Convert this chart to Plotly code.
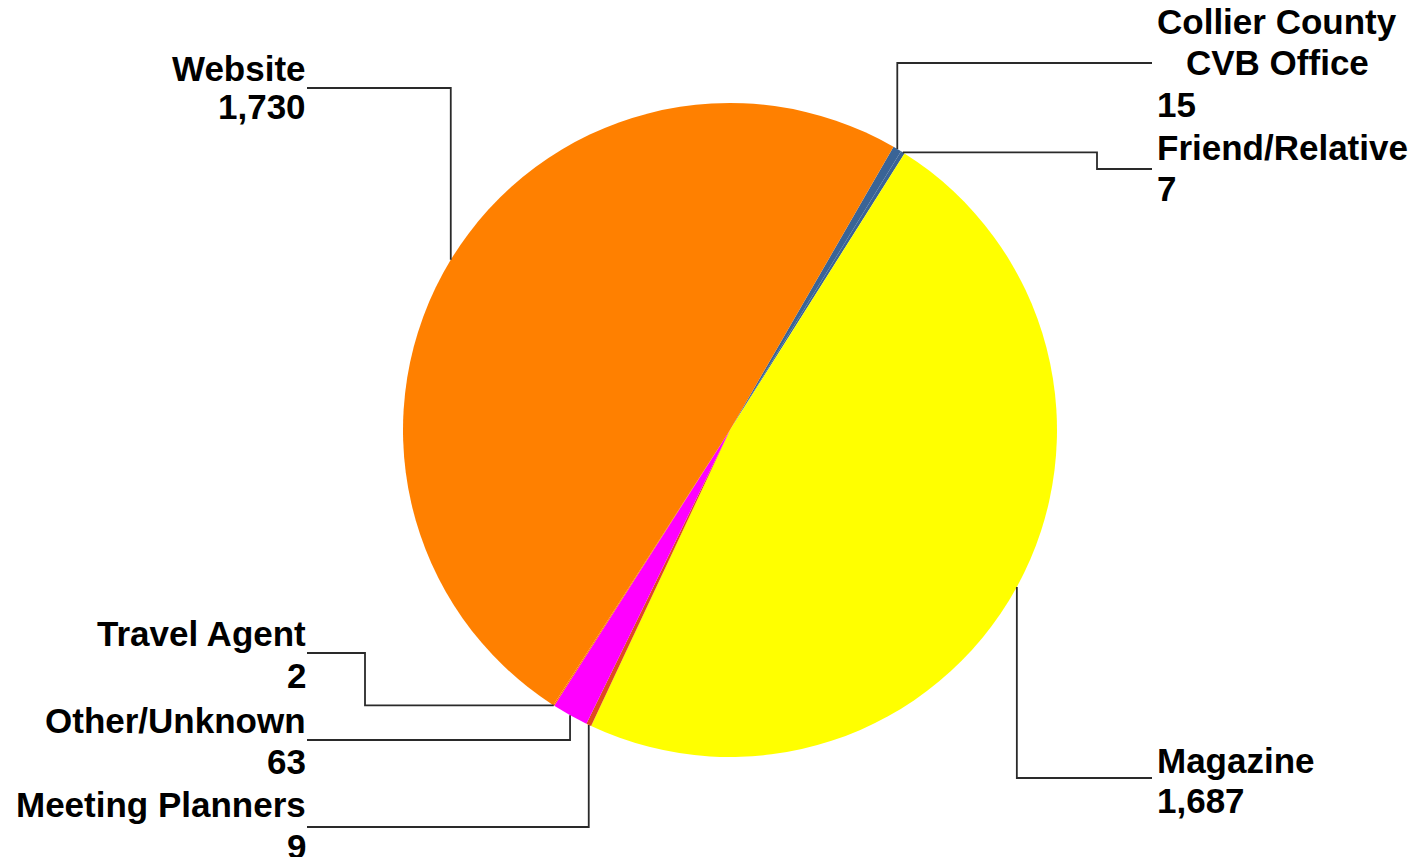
import math
import plotly.graph_objects as go

# ---- data ----
categories = ["Collier County CVB Office", "Friend/Relative", "Magazine",
              "Meeting Planners", "Other/Unknown", "Travel Agent", "Website"]
values = [15, 7, 1687, 9, 63, 2, 1730]
colors = ["#3A6496", "#3A6496", "#FFFF00", "#E04A1F", "#FF00FF", "#FF6A00", "#FF8000"]

# label text lines (name lines, value line)
label_lines = {
    "Collier County CVB Office": ["Collier County", "CVB Office"],
    "Friend/Relative": ["Friend/Relative"],
    "Magazine": ["Magazine"],
    "Meeting Planners": ["Meeting Planners"],
    "Other/Unknown": ["Other/Unknown"],
    "Travel Agent": ["Travel Agent"],
    "Website": ["Website"],
}

# ---- layout (pixels) ----
W, H = 1416, 857
CX, CY, R = 730, 430, 327
ROTATION = 30
FONT = dict(family="Liberation Sans, Arial, sans-serif", size=35, color="#000000", weight=700)
LINE_COLOR = "#2A2A2A"

# leader routes: steps from slice edge midpoint
routes = {
    "Collier County CVB Office": [("v", 63), ("h", 1152)],
    "Friend/Relative": [("h", 1097), ("v", 169), ("h", 1152)],
    "Magazine": [("v", 778), ("h", 1152)],
    "Meeting Planners": [("v", 827), ("h", 307)],
    "Other/Unknown": [("v", 740), ("h", 307)],
    "Travel Agent": [("h", 365), ("v", 653), ("h", 307)],
    "Website": [("v", 88), ("h", 307)],
}
# text placement
text_pos = {
    "Collier County CVB Office": dict(nx=1277, nanchor="center", ys=[22, 63, 104], vx=1155, vanchor="left"),
    "Friend/Relative": dict(nx=1155, nanchor="left", ys=[148, 188], vx=1155, vanchor="left"),
    "Magazine": dict(nx=1155, nanchor="left", ys=[760, 800], vx=1155, vanchor="left"),
    "Meeting Planners": dict(nx=308, nanchor="right", ys=[804, 846], vx=308, vanchor="right"),
    "Other/Unknown": dict(nx=308, nanchor="right", ys=[720, 761], vx=308, vanchor="right"),
    "Travel Agent": dict(nx=308, nanchor="right", ys=[633, 675], vx=308, vanchor="right"),
    "Website": dict(nx=308, nanchor="right", ys=[68, 107], vx=308, vanchor="right"),
}


def px(x):
    return x / W


def py(y):
    return 1 - y / H


fig = go.Figure()
fig.add_trace(go.Pie(
    labels=categories, values=values, sort=False, direction="clockwise",
    rotation=ROTATION, textinfo="none", hoverinfo="label+value",
    marker=dict(colors=colors, line=dict(width=0)), showlegend=False,
    domain=dict(x=[(CX - R) / W, (CX + R) / W], y=[(H - CY - R) / H, (H - CY + R) / H]),
))

total = sum(values)
cum = 0
shapes = []
annotations = []
for cat, val in zip(categories, values):
    mid = ROTATION + (cum + val / 2) / total * 360
    cum += val
    a = math.radians(mid)
    x0, y0 = CX + R * math.sin(a), CY - R * math.cos(a)
    pts = [(x0, y0)]
    x, y = x0, y0
    for kind, v in routes[cat]:
        if kind == "v":
            y = v
        else:
            x = v
        pts.append((x, y))
    path = "M " + " L ".join(f"{px(p[0]):.5f},{py(p[1]):.5f}" for p in pts)
    shapes.append(dict(type="path", path=path, xref="paper", yref="paper",
                       line=dict(color=LINE_COLOR, width=1.8)))

    tp = text_pos[cat]
    lines = label_lines[cat]
    for i, t in enumerate(lines):
        annotations.append(dict(text=t, x=px(tp["nx"]), y=py(tp["ys"][i]), xref="paper", yref="paper",
                                xanchor=tp["nanchor"], yanchor="middle", showarrow=False, font=FONT))
    annotations.append(dict(text=f"{val:,}", x=px(tp["vx"]), y=py(tp["ys"][len(lines)]),
                            xref="paper", yref="paper", xanchor=tp["vanchor"], yanchor="middle",
                            showarrow=False, font=FONT))

fig.update_layout(
    width=W, height=H, margin=dict(l=0, r=0, t=0, b=0),
    paper_bgcolor="#FFFFFF", plot_bgcolor="#FFFFFF",
    shapes=shapes, annotations=annotations,
)

fig.write_html("out.html")
